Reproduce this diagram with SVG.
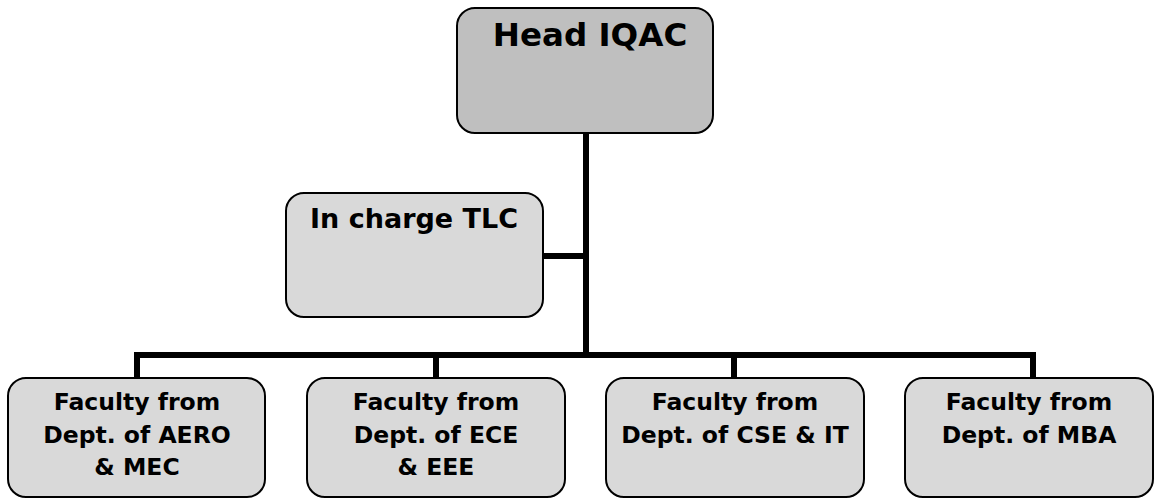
<svg xmlns="http://www.w3.org/2000/svg" width="1156" height="502" viewBox="0 0 1156 502">
<style>
.box{stroke:#000;stroke-width:2}
.top{fill:#bfbfbf}
.mid{fill:#d9d9d9}
.t{font-family:"DejaVu Sans",Verdana,sans-serif;font-weight:bold;fill:#000;text-anchor:middle}
.conn{fill:none;stroke:#000;stroke-width:6;stroke-linejoin:miter}
</style>
<rect width="1156" height="502" fill="#fff"/>
<g id="connectors">
<path class="conn" d="M586 133V355"/>
<path class="conn" d="M543 256H586"/>
<path class="conn" d="M137 378V355H1033V378"/>
<path class="conn" d="M436 355V378"/>
<path class="conn" d="M734 355V378"/>
</g>
<g id="head-iqac">
<rect class="box top" x="457" y="8" width="256" height="125" rx="18"/>
<text class="t" x="590" y="46" font-size="32.5">Head IQAC</text>
</g>
<g id="incharge-tlc">
<rect class="box mid" x="286" y="193" width="257" height="124" rx="18"/>
<text class="t" x="414" y="228" font-size="27">In charge TLC</text>
</g>
<g id="aero-mec">
<rect class="box mid" x="8" y="378" width="257" height="119" rx="18"/>
<text class="t" font-size="23.5"><tspan x="137" y="410">Faculty from</tspan><tspan x="137" y="442.5">Dept. of AERO</tspan><tspan x="137" y="475">&amp; MEC</tspan></text>
</g>
<g id="ece-eee">
<rect class="box mid" x="307" y="378" width="258" height="119" rx="18"/>
<text class="t" font-size="23.5"><tspan x="436" y="410">Faculty from</tspan><tspan x="436" y="442.5">Dept. of ECE</tspan><tspan x="436" y="475">&amp; EEE</tspan></text>
</g>
<g id="cse-it">
<rect class="box mid" x="606" y="378" width="258" height="119" rx="18"/>
<text class="t" font-size="23.5"><tspan x="735" y="410">Faculty from</tspan><tspan x="735" y="442.5">Dept. of CSE &amp; IT</tspan></text>
</g>
<g id="mba">
<rect class="box mid" x="905" y="378" width="248" height="119" rx="18"/>
<text class="t" font-size="23.5"><tspan x="1029" y="410">Faculty from</tspan><tspan x="1029" y="442.5">Dept. of MBA</tspan></text>
</g>
</svg>
